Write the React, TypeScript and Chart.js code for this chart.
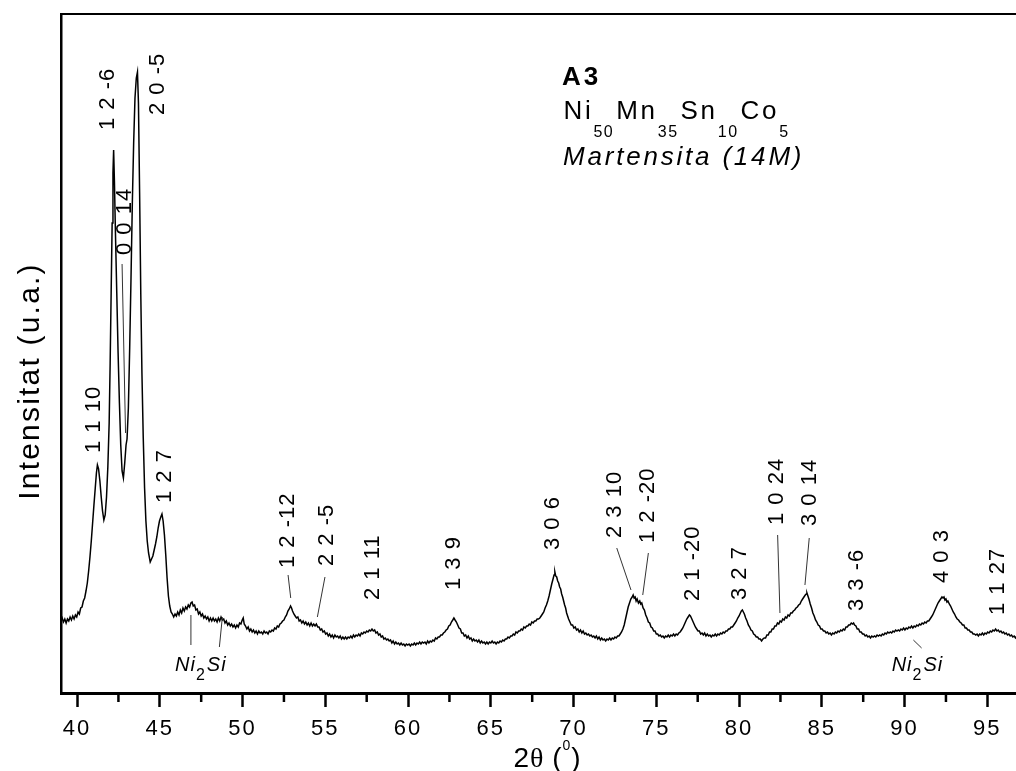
import React, { useEffect, useRef } from "react";
import { Chart, registerables } from "chart.js";

Chart.register(...registerables);

const FONT = '"Liberation Sans", Arial, Helvetica, sans-serif';
const SERIF = '"Liberation Serif", "Times New Roman", serif';

// XRD pattern: [2theta (deg), intensity (arb. units)]
const pattern: [number, number][] = [
  [39.03, 72], [39.10, 75], [39.18, 71], [39.26, 74], [39.34, 70], [39.42, 74], [39.50, 72], [39.58, 76],
  [39.66, 73], [39.74, 77], [39.82, 74], [39.90, 78], [39.98, 76], [40.06, 81], [40.14, 79], [40.22, 85],
  [40.30, 86], [40.38, 92], [40.46, 95], [40.54, 102], [40.62, 110], [40.70, 122], [40.78, 136], [40.86, 152],
  [40.94, 170], [41.02, 188], [41.10, 205], [41.17, 220], [41.23, 228], [41.30, 224], [41.38, 212], [41.46, 196],
  [41.54, 182], [41.62, 173], [41.70, 178], [41.78, 196], [41.86, 226], [41.94, 270], [42.00, 330], [42.06, 400],
  [42.12, 470], [42.17, 520], [42.21, 543], [42.26, 510], [42.32, 460], [42.40, 400], [42.48, 340], [42.56, 290],
  [42.64, 248], [42.72, 222], [42.80, 215], [42.88, 230], [42.96, 248], [43.02, 254], [43.10, 285], [43.18, 345],
  [43.26, 415], [43.34, 490], [43.42, 550], [43.50, 595], [43.58, 615], [43.65, 621], [43.71, 590], [43.78, 500],
  [43.85, 400], [43.92, 320], [44.00, 255], [44.08, 205], [44.16, 172], [44.24, 152], [44.32, 140], [44.42, 131],
  [44.50, 134], [44.58, 137], [44.66, 143], [44.74, 149], [44.82, 156], [44.90, 165], [44.98, 172], [45.06, 176],
  [45.13, 179], [45.20, 172], [45.28, 158], [45.36, 138], [45.44, 115], [45.52, 97], [45.60, 87], [45.68, 81],
  [45.76, 79], [45.84, 76], [45.92, 79], [46.00, 77], [46.08, 81], [46.16, 78], [46.24, 83], [46.32, 80],
  [46.40, 85], [46.48, 82], [46.56, 86], [46.64, 84], [46.72, 88], [46.80, 86], [46.88, 90], [46.95, 91],
  [47.02, 87], [47.10, 88], [47.18, 83], [47.26, 84], [47.34, 79], [47.42, 81], [47.50, 77], [47.58, 79],
  [47.66, 75], [47.74, 77], [47.82, 74], [47.90, 76], [47.98, 72], [48.06, 75], [48.14, 72], [48.22, 75],
  [48.30, 72], [48.38, 74], [48.46, 71], [48.54, 75], [48.62, 72], [48.70, 76], [48.78, 73], [48.86, 74],
  [48.94, 70], [49.02, 72], [49.10, 68], [49.18, 70], [49.26, 67], [49.34, 69], [49.42, 66], [49.50, 68],
  [49.58, 65], [49.66, 68], [49.74, 66], [49.82, 70], [49.90, 69], [49.98, 73], [50.04, 75], [50.10, 69],
  [50.18, 67], [50.26, 64], [50.34, 66], [50.42, 62], [50.50, 64], [50.58, 61], [50.66, 63], [50.74, 60],
  [50.82, 62], [50.90, 59], [50.98, 62], [51.06, 60], [51.14, 61], [51.22, 59], [51.30, 62], [51.38, 60],
  [51.46, 61], [51.54, 59], [51.62, 62], [51.70, 61], [51.78, 63], [51.86, 62], [51.94, 65], [52.02, 64],
  [52.10, 67], [52.18, 66], [52.26, 69], [52.34, 70], [52.42, 72], [52.50, 73], [52.58, 76], [52.66, 78],
  [52.74, 82], [52.82, 84], [52.90, 87], [52.96, 85], [53.02, 82], [53.10, 79], [53.18, 77], [53.26, 75],
  [53.34, 76], [53.42, 72], [53.50, 73], [53.58, 70], [53.66, 72], [53.74, 69], [53.82, 71], [53.90, 68],
  [53.98, 70], [54.06, 67], [54.14, 70], [54.22, 67], [54.30, 69], [54.38, 67], [54.46, 69], [54.54, 66],
  [54.62, 66], [54.70, 63], [54.78, 64], [54.86, 61], [54.94, 62], [55.02, 59], [55.10, 60], [55.18, 57],
  [55.26, 59], [55.34, 56], [55.42, 58], [55.50, 55], [55.58, 58], [55.66, 56], [55.74, 57], [55.82, 55],
  [55.90, 57], [55.98, 54], [56.06, 56], [56.14, 54], [56.22, 56], [56.30, 54], [56.38, 56], [56.46, 55],
  [56.54, 57], [56.62, 55], [56.70, 58], [56.78, 56], [56.86, 58], [56.94, 57], [57.02, 59], [57.10, 57],
  [57.18, 60], [57.26, 59], [57.34, 61], [57.42, 60], [57.50, 62], [57.58, 61], [57.66, 63], [57.74, 62],
  [57.82, 64], [57.90, 62], [57.98, 63], [58.06, 60], [58.14, 61], [58.22, 58], [58.30, 59], [58.38, 56],
  [58.46, 57], [58.54, 54], [58.62, 55], [58.70, 53], [58.78, 54], [58.86, 52], [58.94, 53], [59.02, 50],
  [59.10, 52], [59.18, 49], [59.26, 51], [59.34, 49], [59.42, 50], [59.50, 48], [59.58, 50], [59.66, 48],
  [59.74, 49], [59.82, 47], [59.90, 49], [59.98, 48], [60.06, 49], [60.14, 47], [60.22, 49], [60.30, 48],
  [60.38, 50], [60.46, 48], [60.54, 50], [60.62, 49], [60.70, 51], [60.78, 49], [60.86, 51], [60.94, 50],
  [61.02, 51], [61.10, 49], [61.18, 52], [61.26, 50], [61.34, 52], [61.42, 51], [61.50, 53], [61.58, 52],
  [61.66, 55], [61.74, 54], [61.82, 56], [61.90, 56], [61.98, 58], [62.06, 58], [62.14, 60], [62.22, 61],
  [62.30, 63], [62.38, 64], [62.46, 67], [62.54, 68], [62.62, 71], [62.70, 73], [62.77, 75], [62.84, 73],
  [62.92, 71], [63.00, 68], [63.08, 65], [63.16, 64], [63.24, 60], [63.32, 60], [63.40, 57], [63.48, 58],
  [63.56, 55], [63.64, 57], [63.72, 54], [63.80, 55], [63.88, 52], [63.96, 54], [64.04, 52], [64.12, 53],
  [64.20, 51], [64.28, 53], [64.36, 50], [64.44, 52], [64.52, 50], [64.60, 51], [64.68, 49], [64.76, 51],
  [64.84, 49], [64.92, 51], [65.00, 50], [65.08, 52], [65.16, 50], [65.24, 51], [65.32, 49], [65.40, 51],
  [65.48, 50], [65.56, 52], [65.64, 51], [65.72, 53], [65.80, 52], [65.88, 54], [65.96, 54], [66.04, 56],
  [66.12, 55], [66.20, 57], [66.28, 57], [66.36, 59], [66.44, 58], [66.52, 61], [66.60, 60], [66.68, 62],
  [66.76, 62], [66.84, 64], [66.92, 63], [67.00, 66], [67.08, 65], [67.16, 67], [67.24, 67], [67.32, 69],
  [67.40, 68], [67.48, 71], [67.56, 70], [67.64, 72], [67.72, 72], [67.80, 74], [67.88, 74], [67.96, 75],
  [68.04, 77], [68.12, 79], [68.20, 81], [68.28, 85], [68.36, 88], [68.44, 92], [68.52, 97], [68.60, 103],
  [68.68, 109], [68.76, 114], [68.82, 118], [68.87, 121], [68.92, 117], [68.98, 116], [69.04, 112], [69.10, 110],
  [69.16, 106], [69.22, 104], [69.28, 99], [69.34, 96], [69.40, 92], [69.46, 88], [69.52, 85], [69.58, 80],
  [69.64, 77], [69.70, 74], [69.78, 71], [69.86, 68], [69.94, 68], [70.02, 65], [70.10, 66], [70.18, 63],
  [70.26, 64], [70.34, 61], [70.42, 63], [70.50, 60], [70.58, 62], [70.66, 59], [70.74, 60], [70.82, 58],
  [70.90, 59], [70.98, 57], [71.06, 58], [71.14, 56], [71.22, 57], [71.30, 55], [71.38, 57], [71.46, 54],
  [71.54, 56], [71.62, 53], [71.70, 55], [71.78, 53], [71.86, 54], [71.94, 52], [72.02, 54], [72.10, 53],
  [72.18, 55], [72.26, 53], [72.34, 55], [72.42, 54], [72.50, 56], [72.58, 55], [72.66, 57], [72.74, 57],
  [72.82, 59], [72.90, 61], [72.98, 64], [73.06, 68], [73.14, 74], [73.22, 80], [73.30, 86], [73.38, 90],
  [73.46, 94], [73.54, 96], [73.60, 98], [73.66, 95], [73.72, 96], [73.78, 92], [73.84, 94], [73.92, 90],
  [74.00, 92], [74.06, 89], [74.12, 90], [74.20, 85], [74.28, 83], [74.36, 78], [74.44, 75], [74.52, 71],
  [74.60, 70], [74.68, 66], [74.76, 65], [74.84, 62], [74.92, 62], [75.00, 59], [75.08, 59], [75.16, 57],
  [75.24, 58], [75.32, 56], [75.40, 57], [75.48, 55], [75.56, 57], [75.64, 56], [75.72, 58], [75.80, 56],
  [75.88, 58], [75.96, 57], [76.04, 59], [76.12, 57], [76.20, 59], [76.28, 58], [76.36, 60], [76.44, 61],
  [76.52, 63], [76.60, 65], [76.68, 68], [76.76, 71], [76.84, 74], [76.92, 76], [77.00, 78], [77.06, 77],
  [77.12, 75], [77.20, 72], [77.28, 69], [77.36, 66], [77.44, 64], [77.52, 62], [77.60, 62], [77.68, 59],
  [77.76, 60], [77.84, 58], [77.92, 60], [78.00, 57], [78.08, 59], [78.16, 57], [78.24, 58], [78.32, 56],
  [78.40, 58], [78.48, 57], [78.56, 59], [78.64, 57], [78.72, 59], [78.80, 58], [78.88, 60], [78.96, 59],
  [79.04, 61], [79.12, 60], [79.20, 62], [79.28, 62], [79.36, 64], [79.44, 64], [79.52, 66], [79.60, 66],
  [79.68, 68], [79.76, 70], [79.84, 72], [79.92, 75], [80.00, 77], [80.08, 80], [80.14, 82], [80.20, 83],
  [80.26, 81], [80.32, 79], [80.40, 75], [80.48, 72], [80.56, 68], [80.64, 66], [80.72, 63], [80.80, 62],
  [80.88, 59], [80.96, 58], [81.04, 56], [81.12, 56], [81.20, 54], [81.28, 54], [81.36, 52], [81.44, 54],
  [81.52, 55], [81.60, 55], [81.68, 58], [81.76, 58], [81.84, 61], [81.92, 61], [82.00, 64], [82.08, 64],
  [82.16, 67], [82.24, 67], [82.32, 70], [82.40, 69], [82.48, 72], [82.56, 71], [82.64, 74], [82.72, 73],
  [82.80, 76], [82.88, 75], [82.96, 78], [83.04, 77], [83.12, 80], [83.20, 80], [83.28, 82], [83.36, 83],
  [83.44, 85], [83.52, 86], [83.60, 88], [83.68, 89], [83.76, 92], [83.84, 94], [83.92, 96], [84.00, 98],
  [84.06, 99], [84.10, 100], [84.16, 97], [84.22, 94], [84.30, 89], [84.38, 85], [84.46, 80], [84.54, 77],
  [84.62, 73], [84.70, 71], [84.78, 68], [84.86, 67], [84.94, 64], [85.02, 64], [85.10, 62], [85.18, 62],
  [85.26, 60], [85.34, 61], [85.42, 59], [85.50, 60], [85.58, 58], [85.66, 60], [85.74, 59], [85.82, 61],
  [85.90, 60], [85.98, 62], [86.06, 61], [86.14, 63], [86.22, 62], [86.30, 64], [86.38, 63], [86.46, 66],
  [86.54, 66], [86.62, 68], [86.70, 68], [86.78, 70], [86.86, 69], [86.92, 70], [86.98, 68], [87.06, 67],
  [87.14, 64], [87.22, 64], [87.30, 61], [87.38, 61], [87.46, 59], [87.54, 59], [87.62, 57], [87.70, 58],
  [87.78, 56], [87.86, 57], [87.94, 55], [88.02, 57], [88.10, 56], [88.18, 57], [88.26, 56], [88.34, 58],
  [88.42, 57], [88.50, 58], [88.58, 57], [88.66, 59], [88.74, 58], [88.82, 60], [88.90, 59], [88.98, 61],
  [89.06, 60], [89.14, 61], [89.22, 60], [89.30, 62], [89.38, 61], [89.46, 63], [89.54, 62], [89.62, 63],
  [89.70, 62], [89.78, 64], [89.86, 63], [89.94, 65], [90.02, 63], [90.10, 65], [90.18, 64], [90.26, 66],
  [90.34, 65], [90.42, 67], [90.50, 65], [90.58, 67], [90.66, 66], [90.74, 68], [90.82, 67], [90.90, 69],
  [90.98, 68], [91.06, 70], [91.14, 69], [91.22, 71], [91.30, 70], [91.38, 72], [91.46, 72], [91.54, 74],
  [91.62, 76], [91.70, 78], [91.78, 81], [91.86, 84], [91.94, 87], [92.02, 90], [92.10, 92], [92.18, 94],
  [92.26, 96], [92.32, 95], [92.38, 96], [92.44, 93], [92.50, 94], [92.56, 91], [92.62, 92], [92.70, 89],
  [92.78, 87], [92.86, 84], [92.94, 81], [93.02, 79], [93.10, 76], [93.18, 74], [93.26, 73], [93.34, 71],
  [93.42, 70], [93.50, 68], [93.58, 68], [93.66, 65], [93.74, 65], [93.82, 63], [93.90, 63], [93.98, 61],
  [94.06, 61], [94.14, 59], [94.22, 59], [94.30, 58], [94.38, 59], [94.46, 57], [94.54, 59], [94.62, 58],
  [94.70, 60], [94.78, 58], [94.86, 60], [94.94, 59], [95.02, 61], [95.10, 60], [95.18, 62], [95.26, 61],
  [95.34, 63], [95.42, 62], [95.50, 64], [95.58, 62], [95.66, 63], [95.74, 61], [95.82, 62], [95.90, 60],
  [95.98, 61], [96.06, 59], [96.14, 60], [96.22, 58], [96.30, 59], [96.38, 57], [96.46, 58], [96.54, 56],
  [96.62, 57], [96.70, 55], [96.78, 57], [96.86, 55], [96.94, 56], [97.02, 55], [97.10, 56], [97.20, 54],
  [97.30, 56], [97.40, 55], [97.50, 55], [97.60, 54], [97.70, 55], [97.80, 54],
];

// Axis ranges and ticks
const xMin = 39.03;
const xMax = 97.82;
const yMin = 0;
const yMax = 679;
const majorTicks = [40, 45, 50, 55, 60, 65, 70, 75, 80, 85, 90, 95];
const minorTicks = [42.5, 47.5, 52.5, 57.5, 62.5, 67.5, 72.5, 77.5, 82.5, 87.5, 92.5, 97.5];

// Peak (hkl) annotations: text, 2theta of label, intensity at the label's start
const peakLabels = [
  "1 1 10", "1 2 -6", "0 0 14", "2 0 -5", "1 2 7", "1 2 -12", "2 2 -5", "2 1 11", "1 3 9", "3 0 6",
  "2 3 10", "1 2 -20", "2 1 -20", "3 2 7", "1 0 24", "3 0 14", "3 3 -6", "4 0 3", "1 1 27",
];
const peakLabelX = [
  41.01, 41.84, 42.9, 44.86, 45.34, 52.76, 55.08, 57.9, 62.78, 68.78,
  72.5, 74.52, 77.24, 80.06, 82.27, 84.29, 87.11, 92.24, 95.62,
];
const peakLabelY = [
  240, 563, 438, 578, 190, 125, 127, 93, 103, 143,
  155, 150, 92, 93, 168, 167, 82, 110, 78,
];

// Leader lines: [x1, y1, x2, y2] in data units
const leaderLines: [number, number, number, number][] = [
  [42.72, 429, 42.93, 260],
  [52.75, 118, 52.91, 95],
  [54.98, 116, 54.52, 76],
  [72.61, 145, 73.47, 103],
  [74.52, 140, 74.18, 98],
  [82.33, 158, 82.47, 80],
  [84.24, 155, 83.98, 108],
  [46.88, 78, 46.88, 48],
  [48.78, 76, 48.6, 46],
  [90.53, 53, 91.03, 45],
];

// Ni2Si phase labels (2theta of text start, intensity of baseline)
const phaseLabelX = [45.92, 89.22];
const phaseLabelY = [22, 22];

const sampleName = "A3";
const compositionElements = ["Ni", "Mn", "Sn", "Co"];
const compositionIndices = ["50", "35", "10", "5"];
const phaseName = "Martensita (14M)";
const yTitle = "Intensitat (u.a.)";

const decorPlugin = {
  id: "decor",
  beforeDraw(chart: any) {
    chart.ctx.letterSpacing = "2px";
  },
  afterDraw(chart: any) {
    const { ctx, chartArea, scales } = chart;
    const xs = scales.x;
    const ys = scales.y;
    ctx.save();
    // top frame line
    ctx.strokeStyle = "#000";
    ctx.lineWidth = 2;
    ctx.beginPath();
    ctx.moveTo(chartArea.left, chartArea.top);
    ctx.lineTo(chartArea.right, chartArea.top);
    ctx.stroke();
    // minor ticks
    ctx.lineWidth = 2.5;
    minorTicks.forEach((v) => {
      const px = xs.getPixelForValue(v);
      ctx.beginPath();
      ctx.moveTo(px, chartArea.bottom);
      ctx.lineTo(px, chartArea.bottom + 9);
      ctx.stroke();
    });
    // leader lines
    ctx.lineWidth = 1;
    ctx.strokeStyle = "#333";
    leaderLines.forEach(([x1, y1, x2, y2]) => {
      ctx.beginPath();
      ctx.moveTo(xs.getPixelForValue(x1), ys.getPixelForValue(y1));
      ctx.lineTo(xs.getPixelForValue(x2), ys.getPixelForValue(y2));
      ctx.stroke();
    });
    // peak labels
    ctx.fillStyle = "#000";
    ctx.letterSpacing = "1px";
    ctx.font = `22px ${FONT}`;
    ctx.textAlign = "left";
    ctx.textBaseline = "middle";
    peakLabels.forEach((t, i) => {
      ctx.save();
      ctx.translate(xs.getPixelForValue(peakLabelX[i]), ys.getPixelForValue(peakLabelY[i]));
      ctx.rotate(-Math.PI / 2);
      ctx.fillText(t, 0, 0);
      ctx.restore();
    });
    // Ni2Si labels
    ctx.textBaseline = "alphabetic";
    ctx.letterSpacing = "1px";
    phaseLabelX.forEach((v, i) => {
      let px = xs.getPixelForValue(v);
      const py = ys.getPixelForValue(phaseLabelY[i]);
      ctx.font = `italic 20px ${FONT}`;
      ctx.fillText("Ni", px, py);
      px += ctx.measureText("Ni").width;
      ctx.font = `16px ${FONT}`;
      ctx.fillText("2", px, py + 9);
      px += ctx.measureText("2").width + 1;
      ctx.font = `italic 20px ${FONT}`;
      ctx.fillText("Si", px, py);
    });
    // legend block
    const lx = chartArea.left + 501;
    ctx.letterSpacing = "3px";
    ctx.font = `bold 26px ${FONT}`;
    ctx.fillText(sampleName, lx, chartArea.top + 71);
    let cx = lx + 1.5;
    const by = chartArea.top + 104.5;
    compositionElements.forEach((el, i) => {
      ctx.letterSpacing = "2.7px";
      ctx.font = `26px ${FONT}`;
      ctx.fillText(el, cx, by);
      cx += ctx.measureText(el).width;
      ctx.letterSpacing = "1.5px";
      ctx.font = `16px ${FONT}`;
      ctx.fillText(compositionIndices[i], cx, by + 18);
      cx += ctx.measureText(compositionIndices[i]).width + 2;
    });
    ctx.font = `italic 26px ${FONT}`;
    ctx.letterSpacing = "2.8px";
    ctx.fillText(phaseName, lx + 1, chartArea.top + 151);

    // y axis title
    ctx.save();
    ctx.translate(31, 381);
    ctx.rotate(-Math.PI / 2);
    ctx.textAlign = "center";
    ctx.textBaseline = "middle";
    ctx.font = `30px ${FONT}`;
    ctx.letterSpacing = "2.2px";
    ctx.fillText(yTitle, 0, 0);
    ctx.restore();

    // x axis title: 2θ (⁰)
    ctx.letterSpacing = "0px";
    ctx.textAlign = "left";
    ctx.textBaseline = "alphabetic";
    const pieces: [string, string, number][] = [
      ["2", `28px ${FONT}`, 0],
      ["θ", `28px ${SERIF}`, 0],
      [" (", `28px ${FONT}`, 0],
      ["0", `14px ${FONT}`, -17],
      [")", `28px ${FONT}`, 0],
    ];
    let total = 0;
    pieces.forEach(([t, f]) => {
      ctx.font = f;
      total += ctx.measureText(t).width + 1;
    });
    let tx = (chartArea.left + chartArea.right) / 2 - total / 2;
    const tyBase = 767;
    pieces.forEach(([t, f, dy]) => {
      ctx.font = f;
      ctx.fillText(t, tx, tyBase + dy);
      tx += ctx.measureText(t).width + 1;
    });
    ctx.restore();
  },
};

export default function App() {
  const canvasRef = useRef<HTMLCanvasElement | null>(null);

  useEffect(() => {
    const canvas = canvasRef.current;
    if (!canvas) return;
    const chart = new Chart(canvas, {
      type: "line",
      data: {
        datasets: [
          {
            data: pattern.map(([x, y]) => ({ x, y })),
            borderColor: "#000",
            borderWidth: 1.5,
            pointRadius: 0,
            tension: 0,
            fill: false,
          },
        ],
      },
      options: {
        animation: false,
        responsive: false,
        devicePixelRatio: 1,
        layout: { padding: { left: 0, top: 14, right: 0, bottom: 0 } },
        plugins: { legend: { display: false }, tooltip: { enabled: false }, title: { display: false } },
        scales: {
          x: {
            type: "linear",
            position: "bottom",
            min: xMin,
            max: xMax,
            afterBuildTicks: (scale: any) => {
              scale.ticks = majorTicks.map((v) => ({ value: v }));
            },
            afterFit: (scale: any) => {
              scale.height = 78;
            },
            ticks: {
              color: "#000",
              font: { family: FONT, size: 22 },
              padding: 9,
              maxRotation: 0,
              autoSkip: false,
              callback: (v: any) => String(v),
            },
            grid: {
              drawOnChartArea: false,
              drawTicks: true,
              tickLength: 14,
              tickWidth: 2.5,
              tickColor: "#000",
            },
            border: { display: true, color: "#000", width: 3 },
            title: { display: false },
          },
          y: {
            type: "linear",
            position: "left",
            min: yMin,
            max: yMax,
            afterFit: (scale: any) => {
              scale.width = 61;
            },
            ticks: { display: false },
            grid: { display: false, drawTicks: false },
            border: { display: true, color: "#000", width: 2.5 },
            title: { display: false },
          },
        },
      },
      plugins: [decorPlugin],
    });
    return () => chart.destroy();
  }, []);

  return (
    <div style={{ position: "fixed", left: 0, top: 0, width: 1016, height: 771, overflow: "hidden", background: "#fff" }}>
      <canvas ref={canvasRef} width={1034} height={771} style={{ display: "block", width: 1034, height: 771 }} />
    </div>
  );
}
